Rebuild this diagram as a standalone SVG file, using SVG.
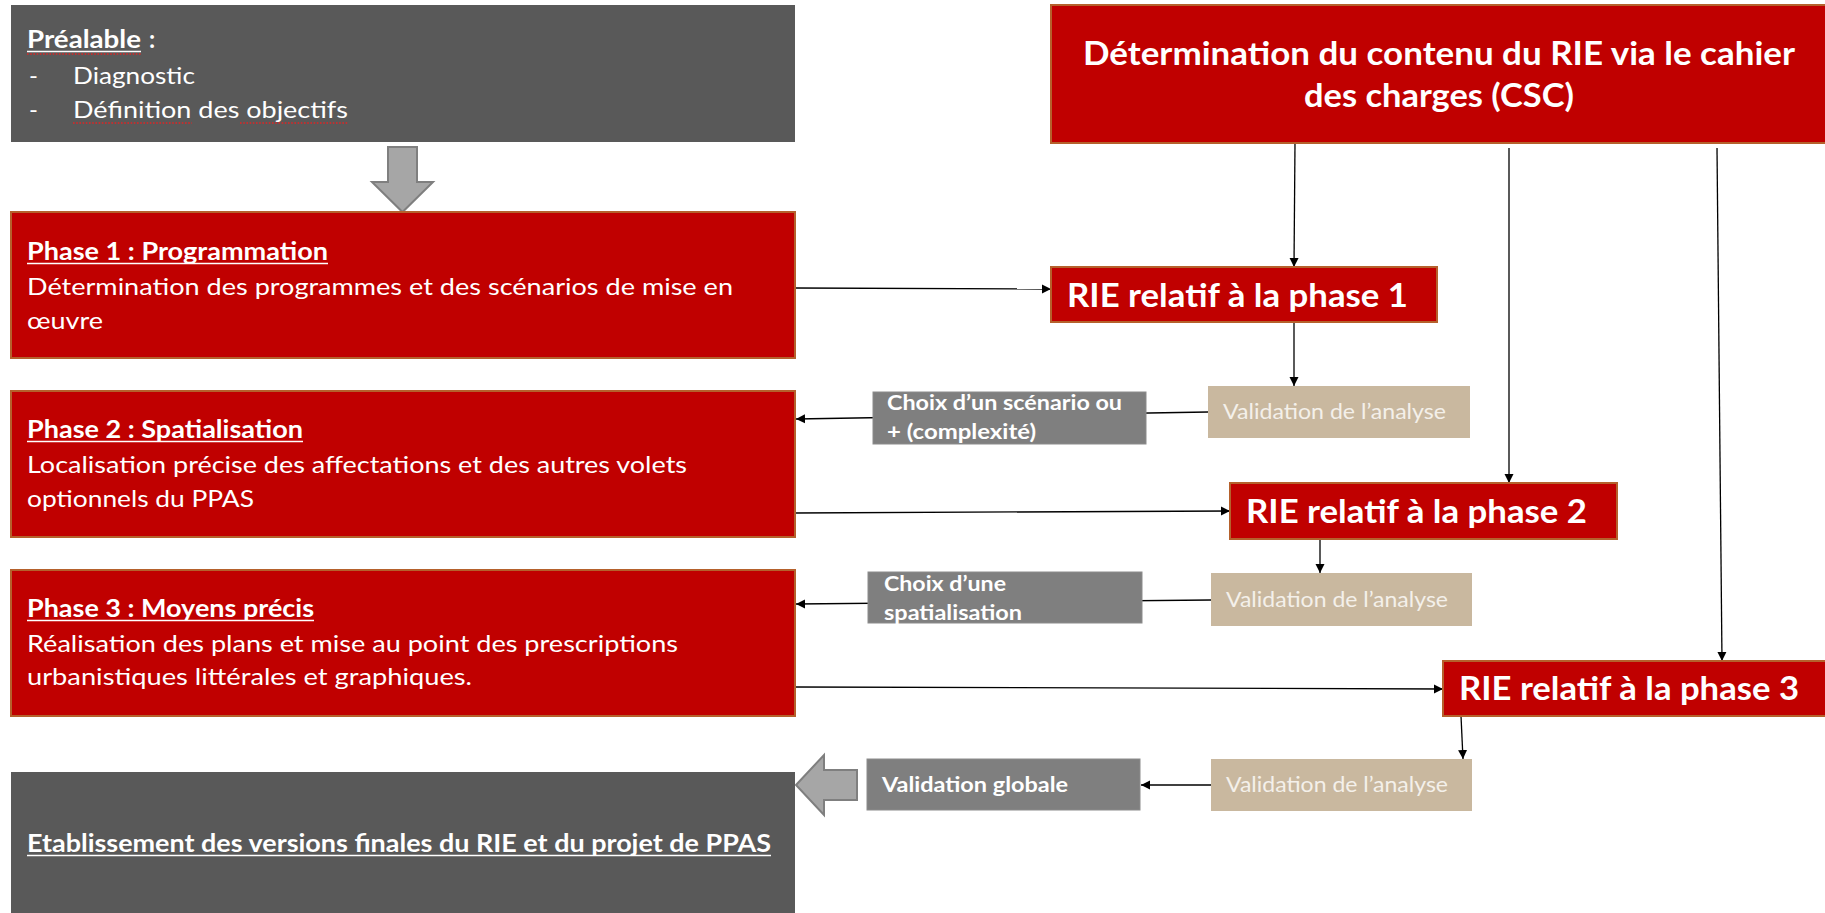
<svg xmlns="http://www.w3.org/2000/svg" width="1825" height="913" viewBox="0 0 1825 913">
  <style>
    .dark { fill: #595959; }
    .phase { fill: #C00000; stroke: #B5612C; stroke-width: 2; }
    .label { fill: #7F7F7F; stroke: #8C8C8C; stroke-width: 1; }
    .valid { fill: #C9B89F; }
    .block { fill: #A6A6A6; stroke: #7F7F7F; stroke-width: 2; stroke-linejoin: miter; }
    text { font-family: Lato, "Open Sans", "Liberation Sans", sans-serif; fill: #FFFFFF; }
    .body { font-size: 24px; }
    .bold { font-size: 24px; font-weight: 700; }
    .big { font-size: 32px; font-weight: 700; }
    .small { font-size: 21px; font-weight: 700; }
    .vtext { font-size: 22px; fill: #F4F0EA; }
    .ul { stroke: #FFFFFF; stroke-width: 1.6; }
    .spell { stroke: #E02424; stroke-width: 1.3; stroke-dasharray: 1.6 1.6; fill: none; }
    .conn { stroke: #000000; stroke-width: 1.3; fill: none; marker-end: url(#tip); }
  </style>
  <defs>
    <marker id="tip" viewBox="0 0 10 10" refX="10" refY="5" markerUnits="userSpaceOnUse" markerWidth="9" markerHeight="10" orient="auto">
      <path d="M0,0 L10,5 L0,10 Z" fill="#000000"/>
    </marker>
  </defs>

  <rect width="1825" height="913" fill="#FFFFFF"/>

  <!-- connectors -->
  <g id="connectors">
    <line class="conn" x1="1295" y1="143" x2="1294" y2="267"/>
    <line class="conn" x1="1509" y1="148" x2="1509" y2="483"/>
    <line class="conn" x1="1717" y1="148" x2="1722" y2="661"/>
    <line class="conn" x1="795" y1="288" x2="1051" y2="289"/>
    <line class="conn" x1="1294" y1="322" x2="1294" y2="386"/>
    <line class="conn" x1="1208" y1="412" x2="796" y2="419"/>
    <line class="conn" x1="795" y1="513" x2="1230" y2="511"/>
    <line class="conn" x1="1320" y1="539" x2="1320" y2="573"/>
    <line class="conn" x1="1211" y1="600" x2="796" y2="604"/>
    <line class="conn" x1="795" y1="687" x2="1443" y2="689"/>
    <line class="conn" x1="1461" y1="716" x2="1463" y2="759"/>
    <line class="conn" x1="1211" y1="785" x2="1141" y2="785"/>
  </g>

  <!-- prerequisite -->
  <g id="prealable">
    <rect class="dark" x="11" y="5" width="784" height="137"/>
    <text class="bold" x="27" y="48" textLength="114" lengthAdjust="spacingAndGlyphs">Préalable</text>
    <text class="bold" x="149" y="48">:</text>
    <line class="ul" x1="27" y1="51.5" x2="141" y2="51.5"/>
    <line class="spell" x1="27" y1="54" x2="141" y2="54"/>
    <text class="body" x="29" y="84">-</text>
    <text class="body" x="73" y="84" textLength="122" lengthAdjust="spacingAndGlyphs">Diagnostic</text>
    <text class="body" x="29" y="118">-</text>
    <text class="body" x="73" y="118" textLength="275" lengthAdjust="spacingAndGlyphs">Définition des objectifs</text>
    <line class="spell" x1="73" y1="123" x2="192" y2="123"/>
    <line class="spell" x1="240" y1="123" x2="348" y2="123"/>
  </g>

  <!-- block arrow down -->
  <g id="arrow-down">
    <path class="block" d="M388,147 H417 V182 H433 L402.5,212 L372,182 H388 Z"/>
  </g>

  <!-- phase 1 -->
  <g id="phase1">
    <rect class="phase" x="11" y="212" width="784" height="146"/>
    <text class="bold" x="27" y="260" textLength="301" lengthAdjust="spacingAndGlyphs">Phase 1 : Programmation</text>
    <line class="ul" x1="27" y1="263.5" x2="328" y2="263.5"/>
    <text class="body" x="27" y="295" textLength="706" lengthAdjust="spacingAndGlyphs">Détermination des programmes et des scénarios de mise en</text>
    <text class="body" x="27" y="329" textLength="76" lengthAdjust="spacingAndGlyphs">œuvre</text>
  </g>

  <!-- phase 2 -->
  <g id="phase2">
    <rect class="phase" x="11" y="391" width="784" height="146"/>
    <text class="bold" x="27" y="438" textLength="276" lengthAdjust="spacingAndGlyphs">Phase 2 : Spatialisation</text>
    <line class="ul" x1="27" y1="441.5" x2="303" y2="441.5"/>
    <text class="body" x="27" y="473" textLength="660" lengthAdjust="spacingAndGlyphs">Localisation précise des affectations et des autres volets</text>
    <text class="body" x="27" y="507" textLength="227" lengthAdjust="spacingAndGlyphs">optionnels du PPAS</text>
  </g>

  <!-- phase 3 -->
  <g id="phase3">
    <rect class="phase" x="11" y="570" width="784" height="146"/>
    <text class="bold" x="27" y="617" textLength="287" lengthAdjust="spacingAndGlyphs">Phase 3 : Moyens précis</text>
    <line class="ul" x1="27" y1="620.5" x2="314" y2="620.5"/>
    <text class="body" x="27" y="652" textLength="651" lengthAdjust="spacingAndGlyphs">Réalisation des plans et mise au point des prescriptions</text>
    <text class="body" x="27" y="685" textLength="445" lengthAdjust="spacingAndGlyphs">urbanistiques littérales et graphiques.</text>
  </g>

  <!-- final versions -->
  <g id="final">
    <rect class="dark" x="11" y="772" width="784" height="145"/>
    <text class="bold" x="27" y="852" textLength="744" lengthAdjust="spacingAndGlyphs">Etablissement des versions finales du RIE et du projet de PPAS</text>
    <line class="ul" x1="27" y1="855.5" x2="771" y2="855.5"/>
  </g>

  <!-- block arrow left -->
  <g id="arrow-left">
    <path class="block" d="M796,785 L824,755 V770 H857 V800 H824 V815 Z"/>
  </g>

  <!-- specification -->
  <g id="csc">
    <rect class="phase" x="1051" y="5" width="790" height="138"/>
    <text class="big" x="1439" y="65" text-anchor="middle" textLength="712" lengthAdjust="spacingAndGlyphs">Détermination du contenu du RIE via le cahier</text>
    <text class="big" x="1439" y="107" text-anchor="middle" textLength="270" lengthAdjust="spacingAndGlyphs">des charges (CSC)</text>
  </g>

  <!-- RIE per phase -->
  <g id="rie1">
    <rect class="phase" x="1051" y="267" width="386" height="55"/>
    <text class="big" x="1067" y="307" textLength="341" lengthAdjust="spacingAndGlyphs">RIE relatif à la phase 1</text>
  </g>
  <g id="rie2">
    <rect class="phase" x="1230" y="483" width="387" height="56"/>
    <text class="big" x="1246" y="523" textLength="341" lengthAdjust="spacingAndGlyphs">RIE relatif à la phase 2</text>
  </g>
  <g id="rie3">
    <rect class="phase" x="1443" y="661" width="400" height="55"/>
    <text class="big" x="1459" y="700" textLength="340" lengthAdjust="spacingAndGlyphs">RIE relatif à la phase 3</text>
  </g>

  <!-- validations -->
  <g id="validation1">
    <rect class="valid" x="1208" y="386" width="262" height="52"/>
    <text class="vtext" x="1223" y="419" textLength="223" lengthAdjust="spacingAndGlyphs">Validation de l’analyse</text>
  </g>
  <g id="validation2">
    <rect class="valid" x="1211" y="573" width="261" height="53"/>
    <text class="vtext" x="1226" y="607" textLength="222" lengthAdjust="spacingAndGlyphs">Validation de l’analyse</text>
  </g>
  <g id="validation3">
    <rect class="valid" x="1211" y="759" width="261" height="52"/>
    <text class="vtext" x="1226" y="792" textLength="222" lengthAdjust="spacingAndGlyphs">Validation de l’analyse</text>
  </g>

  <!-- decisions -->
  <g id="choix1">
    <rect class="label" x="873" y="392" width="273" height="52"/>
    <text class="small" x="887" y="410" textLength="235" lengthAdjust="spacingAndGlyphs">Choix d’un scénario ou</text>
    <text class="small" x="887" y="439" textLength="149" lengthAdjust="spacingAndGlyphs">+ (complexité)</text>
  </g>
  <g id="choix2">
    <rect class="label" x="868" y="572" width="274" height="51"/>
    <text class="small" x="884" y="591" textLength="122" lengthAdjust="spacingAndGlyphs">Choix d’une</text>
    <text class="small" x="884" y="620" textLength="138" lengthAdjust="spacingAndGlyphs">spatialisation</text>
  </g>
  <g id="validation-globale">
    <rect class="label" x="867" y="759" width="273" height="51"/>
    <text class="small" x="882" y="792" textLength="186" lengthAdjust="spacingAndGlyphs">Validation globale</text>
  </g>
</svg>
